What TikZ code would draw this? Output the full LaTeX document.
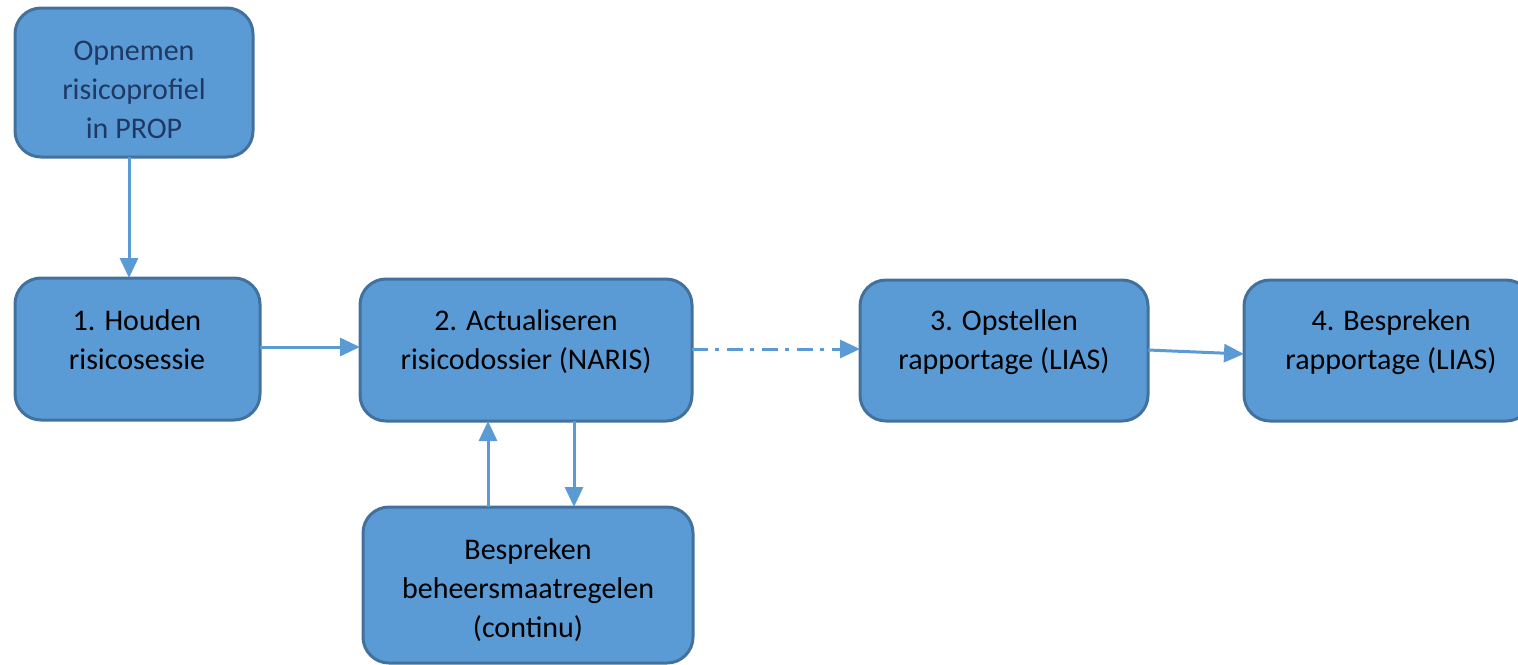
\documentclass[tikz,border=0pt]{standalone}
\usepackage{fontspec}
\setmainfont{Carlito}
\usetikzlibrary{arrows.meta}
\definecolor{boxfill}{HTML}{5B9BD5}
\definecolor{boxline}{HTML}{41719C}
\definecolor{navytext}{HTML}{1F3864}
\tikzset{
  stepbox/.style={draw=boxline, fill=boxfill, line width=1.5pt, rounded corners=13pt, inner sep=0pt, outer sep=0pt},
  boxtext/.style={align=center, font=\fontsize{15pt}{19.5pt}\selectfont, inner sep=0pt},
  conn/.style={draw=boxfill, line width=1.5pt, -{Triangle[length=10pt,width=9pt]}},
  dashdotconn/.style={conn, dash pattern=on 8pt off 3.5pt on 2pt off 4pt}
}
\begin{document}
\begin{tikzpicture}[x=0.5pt,y=-0.5pt]
\useasboundingbox (0,0) rectangle (1518,664);
% boxes (centre, width, height in px -> pt = px/2)
\node[stepbox, minimum width=119pt, minimum height=74.5pt] (opn) at (134,82.5) {};
\node[stepbox, minimum width=122.5pt, minimum height=71pt] (b1) at (137.5,349) {};
\node[stepbox, minimum width=166pt, minimum height=71pt] (b2) at (526,350) {};
\node[stepbox, minimum width=144pt, minimum height=70.5pt] (b3) at (1004,350.5) {};
\node[stepbox, minimum width=144pt, minimum height=70.5pt] (b4) at (1388,350.5) {};
\node[stepbox, minimum width=165pt, minimum height=78pt] (bb) at (528,585) {};
% texts
\node[boxtext, text=navytext] (topt) at (134,90) {Opnemen\\risicoprofiel\\in PROP};
\node[boxtext] (t1) at (137,340) {1. Houden\\risicosessie};
\node[boxtext] (t2) at (526,342) {2. Actualiseren\\risicodossier (NARIS)};
\node[boxtext] (t3) at (1004,342) {3. Opstellen\\rapportage (LIAS)};
\node[boxtext] (t4) at (1391,342) {4. Bespreken\\rapportage (LIAS)};
\node[boxtext] (tb) at (528,590) {Bespreken\\beheersmaatregelen\\(continu)};
% connectors
\draw[conn] (opn.south -| 129,0) -- (b1.north -| 129,0);
\draw[conn] (b1.east |- 0,347) -- (b2.west |- 0,347);
\draw[dashdotconn] (b2.east |- 0,349) -- (b3.west |- 0,349);
\coordinate (s34) at (1148,350);
\coordinate (e34) at (1244,354);
\draw[conn] (s34) -- (e34);
\draw[conn] (bb.north -| 488,0) -- (b2.south -| 488,0);
\draw[conn] (b2.south -| 574,0) -- (bb.north -| 574,0);
\end{tikzpicture}
\end{document}
